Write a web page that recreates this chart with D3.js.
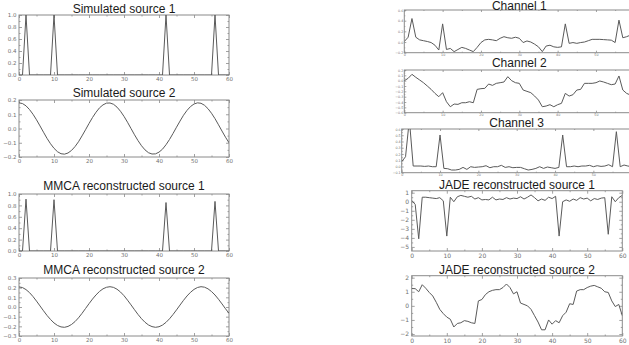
<!DOCTYPE html>
<html><head><meta charset="utf-8">
<script src="https://cdn.jsdelivr.net/npm/d3@7"></script>
<style>body{margin:0;background:#fff}svg{display:block}text{font-family:"Liberation Sans",Arial,sans-serif}</style>
</head><body>
<svg id="c" width="629" height="345"></svg>
<script>
// ---------- data (sample index 0..60) ----------
const sampleX = d3.range(0, 61);

const simSource1 = [0,0,1,0,0,0,0,0,0,0,1,0,0,0,0,0,0,0,0,0,0,0,0,0,0,0,0,0,0,0,0,0,0,0,0,0,0,0,0,0,0,0,1,0,0,0,0,0,0,0,0,0,0,0,0,0,1,0,0,0,0];

const simSource2 = [0.180,0.175,0.159,0.133,0.100,0.061,0.018,-0.026,-0.069,-0.107,-0.139,-0.163,-0.177,-0.180,-0.172,-0.154,-0.127,-0.093,-0.052,-0.009,0.035,0.077,0.114,0.145,0.166,0.178,0.179,0.170,0.150,0.121,0.085,0.044,0.000,-0.044,-0.085,-0.121,-0.150,-0.170,-0.179,-0.178,-0.166,-0.145,-0.114,-0.077,-0.035,0.009,0.052,0.093,0.127,0.154,0.172,0.180,0.177,0.163,0.139,0.107,0.069,0.026,-0.018,-0.061,-0.100];

const mmcaSource1 = [0,0,0.91,0,0,0,0,0,0,0,0.90,0,0,0,0,0,0,0,0,0,0,0,0,0,0,0,0,0,0,0,0,0,0,0,0,0,0,0,0,0,0,0,0.85,0,0,0,0,0,0,0,0,0,0,0,0,0,0.87,0,0,0,0];

const mmcaSource2 = [0.208,0.201,0.180,0.149,0.108,0.061,0.011,-0.039,-0.087,-0.129,-0.165,-0.191,-0.206,-0.210,-0.201,-0.181,-0.151,-0.112,-0.066,-0.016,0.034,0.082,0.125,0.161,0.188,0.204,0.210,0.203,0.184,0.155,0.117,0.071,0.022,-0.028,-0.077,-0.121,-0.158,-0.186,-0.203,-0.210,-0.204,-0.187,-0.159,-0.122,-0.078,-0.030,0.020,0.069,0.114,0.152,0.182,0.202,0.210,0.205,0.188,0.160,0.124,0.080,0.032,-0.018,-0.066];

const channel1 = [0.01,0.09,0.44,0.09,0.04,0.025,0.01,-0.01,-0.06,-0.15,0.34,-0.14,-0.12,-0.18,-0.14,-0.10,-0.12,-0.15,-0.18,-0.10,-0.01,0.04,0.05,0.04,0.025,0.07,0.10,0.08,0.07,0.09,0.07,-0.01,0.02,0.00,-0.04,-0.09,-0.18,-0.075,-0.06,-0.09,-0.10,-0.09,0.34,-0.025,-0.01,-0.025,-0.01,0.00,0.025,0.05,0.05,0.05,0.045,0.04,0.035,-0.01,0.41,0.08,0.10,0.13,0.11];

const channel2 = [0.0,0.044,0.119,0.063,0.013,-0.038,-0.10,-0.163,-0.238,-0.30,-0.225,-0.394,-0.488,-0.438,-0.444,-0.413,-0.413,-0.394,-0.413,-0.163,-0.15,-0.144,-0.063,-0.088,-0.05,-0.038,-0.025,0.075,0.0,-0.038,-0.05,-0.175,-0.20,-0.225,-0.288,-0.363,-0.488,-0.475,-0.45,-0.488,-0.45,-0.425,-0.238,-0.288,-0.263,-0.175,-0.163,-0.05,-0.05,-0.05,-0.038,-0.006,-0.025,-0.05,-0.075,-0.063,0.088,-0.175,-0.238,-0.269,-0.25];

const channel3 = [0.076,0.156,0.75,0.007,0.007,0.007,0.001,0.007,-0.004,-0.004,0.504,-0.031,-0.036,-0.057,-0.057,-0.047,-0.015,-0.047,-0.004,-0.015,-0.009,-0.004,0.012,-0.020,-0.004,-0.004,0.018,-0.015,-0.004,-0.020,-0.015,-0.015,-0.036,-0.057,-0.047,-0.031,-0.004,-0.031,-0.009,-0.020,-0.031,-0.015,0.504,-0.004,-0.004,0.007,-0.004,0.007,0.007,0.018,-0.004,0.012,0.001,0.007,0.028,-0.004,0.557,-0.004,0.023,0.007,-0.004];

const jadeSource1 = [0.15,-0.3,-4.1,0.5,0.5,0.45,0.4,0.35,0.45,0.1,-3.8,0.5,0.0,0.55,0.7,0.6,0.5,0.6,0.3,0.45,0.2,0.25,0.2,0.5,0.2,0.3,0.25,0.45,0.3,0.4,0.35,0.55,0.3,0.5,0.75,0.45,0.1,0.3,0.15,0.5,0.35,0.6,-3.8,0.0,0.2,0.05,0.3,0.15,0.45,0.3,0.4,0.1,0.35,0.25,0.4,0.45,-3.6,0.55,0.0,0.45,0.7];

const jadeSource2 = [1.23,1.22,1.0,1.5,1.25,0.95,0.7,0.25,-0.25,-0.55,-0.8,-0.95,-1.5,-1.25,-1.2,-1.05,-1.1,-1.2,-1.25,0.35,0.45,0.8,1.0,1.1,1.15,1.15,1.3,1.55,1.3,0.85,1.0,0.2,0.1,0.0,-0.25,-0.7,-1.15,-1.7,-1.7,-1.0,-1.3,-1.05,-1.2,-0.7,-0.45,0.15,0.1,1.05,1.15,1.15,1.3,1.4,1.45,1.35,1.25,1.0,0.95,0.35,-0.05,0.1,-0.7];

const xTicks = [0,10,20,30,40,50,60];
const ticksSim1 = [0,0.2,0.4,0.6,0.8,1.0];
const ticksSim2 = [-0.2,-0.1,0,0.1,0.2];
const ticksMmca2 = [-0.3,-0.2,-0.1,0,0.1,0.2,0.3];
const ticksCh1 = [-0.2,0,0.2,0.4,0.6];
const ticksCh2 = [-0.6,-0.5,-0.4,-0.3,-0.2,-0.1,0,0.1,0.2];
const ticksCh3 = [-0.1,0,0.1,0.2,0.3,0.4,0.5,0.6];
const ticksJade1 = [-5,-4,-3,-2,-1,0,1];
const ticksJade2 = [-2,-1,0,1,2];

// ---------- layout ----------
const f1 = d3.format(".1f");
const f0 = d3.format("d");
const panels = [
  {title:"Simulated source 1", data:simSource1, left:19, right:229, top:15, bottom:75, dom:[0,1], yt:ticksSim1, fmt:f1, ty:12.5, lfs:5.5},
  {title:"Simulated source 2", data:simSource2, left:19, right:229, top:100, bottom:157, dom:[-0.2,0.2], yt:ticksSim2, fmt:f1, ty:97, lfs:5.5},
  {title:"MMCA reconstructed source 1", data:mmcaSource1, left:19, right:229, top:194, bottom:251, dom:[0,1], yt:ticksSim1, fmt:f1, ty:189.5, lfs:5.5},
  {title:"MMCA reconstructed source 2", data:mmcaSource2, left:19, right:229, top:278, bottom:336, dom:[-0.3,0.3], yt:ticksMmca2, fmt:f1, ty:273.5, lfs:5.5},
  {title:"Channel 1", data:channel1, left:404.3, right:634.3, top:10, bottom:52.7, dom:[-0.2,0.6], yt:ticksCh1, fmt:f1, ty:9.6, lfs:3.3},
  {title:"Channel 2", data:channel2, left:404.3, right:634.3, top:70, bottom:112.7, dom:[-0.6,0.2], yt:ticksCh2, fmt:f1, ty:67, lfs:3.3},
  {title:"Channel 3", data:channel3, left:401.7, right:631.7, top:129, bottom:172.7, dom:[-0.1,0.6], yt:ticksCh3, fmt:f1, ty:126.5, lfs:3.3},
  {title:"JADE reconstructed source 1", data:jadeSource1, left:411.7, right:622.3, top:190.7, bottom:251, dom:[-5.45,1.22], yt:ticksJade1, fmt:f0, ty:189, lfs:6},
  {title:"JADE reconstructed source 2", data:jadeSource2, left:411.7, right:622.3, top:275.7, bottom:336, dom:[-2.14,2.14], yt:ticksJade2, fmt:f0, ty:273.5, lfs:6}
];

const W = 629;
const svg = d3.select("#c");
const defs = svg.append("defs");
const frameCol = "#8a8a8a", lineCol = "#5a5a5a", labCol = "#707070";

panels.forEach((p, i) => {
  const x = d3.scaleLinear().domain([0, 60]).range([p.left, p.right]);
  const y = d3.scaleLinear().domain(p.dom).range([p.bottom, p.top]);
  const g = svg.append("g");
  const tl = p.lfs < 4 ? 2 : 3;
  const xt = xTicks.filter(t => x(t) <= W);

  defs.append("clipPath").attr("id", "cp" + i).append("rect")
    .attr("x", p.left).attr("y", p.top).attr("width", p.right - p.left).attr("height", p.bottom - p.top);

  const yStep = p.yt[1] - p.yt[0];
  const yMinor = [];
  p.yt.forEach((t, k) => { if (k < p.yt.length - 1) yMinor.push(t + yStep / 2); });
  const xMinor = [5,15,25,35,45,55];

  const axes = [
    [d3.axisBottom(x).tickValues(xt).tickFormat(f0), `translate(0,${p.bottom})`],
    [d3.axisTop(x).tickValues(xt).tickFormat(""), `translate(0,${p.top})`],
    [d3.axisLeft(y).tickValues(p.yt).tickFormat(p.fmt), `translate(${p.left},0)`],
    [d3.axisRight(y).tickValues(p.yt).tickFormat(""), `translate(${p.right},0)`]
  ];
  axes.forEach(([ax, tr]) => {
    const a = g.append("g").attr("transform", tr)
      .call(ax.tickSizeInner(-tl).tickSizeOuter(0).tickPadding(p.lfs < 4 ? 1 : 2.5));
    a.select(".domain").remove();
    a.selectAll("line").attr("stroke", frameCol).attr("stroke-width", 0.8);
    a.selectAll("text").attr("fill", labCol).style("font-size", p.lfs + "px")
      .style("font-family", '"DejaVu Sans",sans-serif');
  });
  const minorAxes = [
    [d3.axisLeft(y).tickValues(yMinor), `translate(${p.left},0)`],
    [d3.axisRight(y).tickValues(yMinor), `translate(${p.right},0)`],
    [d3.axisBottom(x).tickValues(xMinor), `translate(0,${p.bottom})`],
    [d3.axisTop(x).tickValues(xMinor), `translate(0,${p.top})`]
  ];
  minorAxes.forEach(([ax, tr]) => {
    const a = g.append("g").attr("transform", tr).call(ax.tickSizeInner(-tl / 2).tickSizeOuter(0).tickFormat(""));
    a.select(".domain").remove();
    a.selectAll("line").attr("stroke", frameCol).attr("stroke-width", 0.8);
  });

  g.append("rect").attr("x", p.left).attr("y", p.top)
    .attr("width", p.right - p.left).attr("height", p.bottom - p.top)
    .attr("fill", "none").attr("stroke", frameCol).attr("stroke-width", 1);

  const line = d3.line().x((d, k) => x(sampleX[k])).y(d => y(d));
  g.append("path").datum(p.data).attr("d", line)
    .attr("clip-path", `url(#cp${i})`)
    .attr("fill", "none").attr("stroke", lineCol).attr("stroke-width", 1);

  g.append("text").attr("x", (p.left + p.right) / 2).attr("y", p.ty)
    .attr("text-anchor", "middle").style("font-size", "12px").attr("fill", "#1a1a1a").text(p.title);
});
</script>
</body></html>
